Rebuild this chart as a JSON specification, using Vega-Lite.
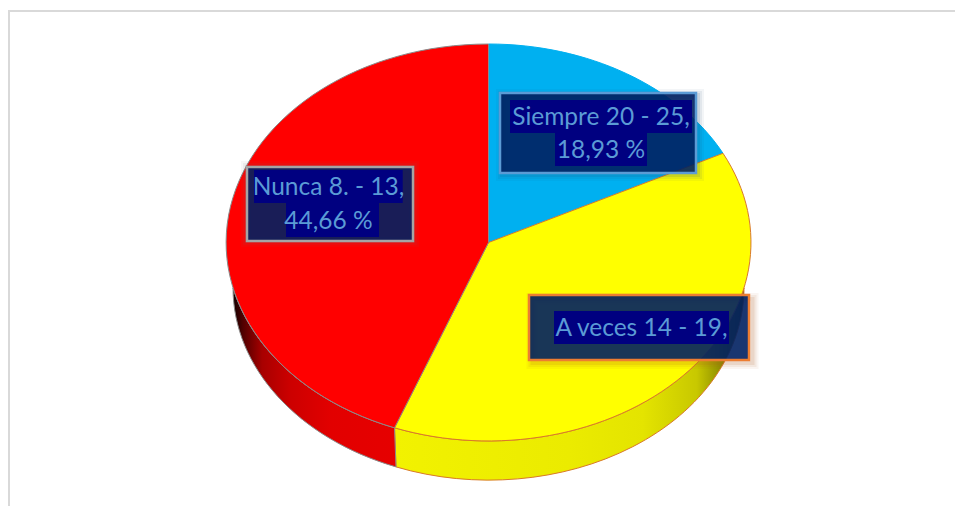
{
"$schema":"https://vega.github.io/schema/vega-lite/v6.json",
"width":955,"height":506,"padding":0,"autosize":{"type":"none"},"background":"white",
"config":{"view":{"stroke":null}},
"resolve":{"scale":{"shape":"independent","stroke":"independent","fill":"independent"}},
"data":{"values":[
{"serie":"Siempre","rango":"Siempre 20 - 25,","pct":"18,93 %","porcentaje":18.93},
{"serie":"A veces","rango":"A veces 14 - 19,","pct":"","porcentaje":36.41},
{"serie":"Nunca","rango":"Nunca 8. - 13,","pct":"44,66 %","porcentaje":44.66}
]},
"layer":[
{"data":{"values":[{"marco":"frame"}]},"mark":{"type":"point","shape":"M-468.5,253L-468.5,-242L477.5,-242","size":4,"filled":false,"stroke":"#d9d9d9","strokeWidth":2,"opacity":1}},
{"transform":[{"filter":"datum.serie==='A veces'"}],"mark":{"type":"point","filled":true,"opacity":1,"size":4,"stroke":"#d9792a","strokeWidth":1,
"shape":"M266.5,35A262.5,198.5 0 0 1 -83,174.8L-81.5,213.9A255,192 0 0 0 266.5,35Z",
"fill":{"gradient":"linear","x1":0,"x2":1,"y1":0,"y2":0,"stops":[{"offset":0,"color":"#f2f200"},{"offset":0.5,"color":"#ebeb00"},{"offset":0.71,"color":"#e4e400"},{"offset":0.865,"color":"#c8c800"},{"offset":0.94,"color":"#8a8a00"},{"offset":1,"color":"#555500"}]}}},
{"transform":[{"filter":"datum.serie==='Nunca'"}],"mark":{"type":"point","filled":true,"opacity":1,"size":4,"stroke":"#8a8a8a","strokeWidth":1,
"shape":"M-83,174.8A262.5,198.5 0 0 1 -244.5,35A255,192 0 0 0 -81.5,213.9Z",
"fill":{"gradient":"linear","x1":0,"x2":1,"y1":0,"y2":0,"stops":[{"offset":0,"color":"#100000"},{"offset":0.06,"color":"#500000"},{"offset":0.18,"color":"#a80000"},{"offset":0.35,"color":"#cc0000"},{"offset":0.6,"color":"#e20000"},{"offset":1,"color":"#e60000"}]}}},
{"mark":{"type":"point","filled":true,"opacity":1,"size":4,"strokeWidth":1},
"encoding":{
"shape":{"field":"serie","type":"nominal","legend":null,"scale":{"domain":["Siempre","A veces","Nunca"],"range":[
"M11,-10.5L11,-209A262.5,198.5 0 0 1 245.5,-99.7Z",
"M11,-10.5L245.5,-99.7A262.5,198.5 0 0 1 -83,174.8Z",
"M11,-10.5L-83,174.8A262.5,198.5 0 0 1 11,-209Z"]}},
"fill":{"field":"serie","type":"nominal","legend":null,"scale":{"domain":["Siempre","A veces","Nunca"],"range":["#00b0f0","#ffff00","#ff0000"]}},
"stroke":{"field":"serie","type":"nominal","legend":null,"scale":{"domain":["Siempre","A veces","Nunca"],"range":["#00b0f0","#d9792a","#8a8a8a"]}}
}},
{"mark":{"type":"point","filled":false,"opacity":0.05,"size":4,"strokeWidth":12},
"encoding":{
"shape":{"field":"serie","type":"nominal","legend":null,"scale":{"domain":["Siempre","A veces","Nunca"],"range":["M24.5,-158H220.5V-78H24.5Z","M55,46H275V110H55Z","M-230.5,-86H-64.5V-12H-230.5Z"]}},
"stroke":{"field":"serie","type":"nominal","legend":null,"scale":{"domain":["Siempre","A veces","Nunca"],"range":["#24507a","#b05a20","#707070"]}}
}},
{"mark":{"type":"point","filled":false,"opacity":0.08,"size":4,"strokeWidth":8},
"encoding":{
"shape":{"field":"serie","type":"nominal","legend":null,"scale":{"domain":["Siempre","A veces","Nunca"],"range":["M24.5,-158H220.5V-78H24.5Z","M55,46H275V110H55Z","M-230.5,-86H-64.5V-12H-230.5Z"]}},
"stroke":{"field":"serie","type":"nominal","legend":null,"scale":{"domain":["Siempre","A veces","Nunca"],"range":["#24507a","#b05a20","#707070"]}}
}},
{"mark":{"type":"point","filled":false,"opacity":0.12,"size":4,"strokeWidth":4},
"encoding":{
"shape":{"field":"serie","type":"nominal","legend":null,"scale":{"domain":["Siempre","A veces","Nunca"],"range":["M24.5,-158H220.5V-78H24.5Z","M55,46H275V110H55Z","M-230.5,-86H-64.5V-12H-230.5Z"]}},
"stroke":{"field":"serie","type":"nominal","legend":null,"scale":{"domain":["Siempre","A veces","Nunca"],"range":["#24507a","#b05a20","#707070"]}}
}},
{"mark":{"type":"point","filled":true,"opacity":1,"size":4,"strokeWidth":2.5,"fillOpacity":0.9},
"encoding":{
"shape":{"field":"serie","type":"nominal","legend":null,"scale":{"domain":["Siempre","A veces","Nunca"],"range":["M22.5,-160H218.5V-80H22.5Z","M51.5,42H271.5V107H51.5Z","M-230.5,-86H-64.5V-12H-230.5Z"]}},
"fill":{"value":"#002060"},
"stroke":{"field":"serie","type":"nominal","legend":null,"scale":{"domain":["Siempre","A veces","Nunca"],"range":["#5b9bd5","#ed7d31","#a5a5a5"]}}
}},
{"mark":{"type":"point","filled":true,"opacity":1,"size":4,"fill":"#000080","strokeWidth":0},
"encoding":{
"shape":{"field":"serie","type":"nominal","legend":null,"scale":{"domain":["Siempre","A veces","Nunca"],"range":[
"M32.5,-153H214.5V-120H169.5V-87H77.5V-120H32.5Z",
"M76.5,58H251.5V91H76.5Z",
"M-223.5,-83H-74.8V-50H-98.5V-16H-191.5V-50H-223.5Z"]}}
}},
{"transform":[{"filter":"datum.serie==='Siempre'"}],"mark":{"type":"text","font":"Lato","fontSize":24.5,"color":"#5b9bd5","align":"center","baseline":"middle","dx":123.5,"dy":-135},"encoding":{"text":{"field":"rango"}}},
{"transform":[{"filter":"datum.serie==='Siempre'"}],"mark":{"type":"text","font":"Lato","fontSize":24.5,"color":"#5b9bd5","align":"center","baseline":"middle","dx":123.5,"dy":-102},"encoding":{"text":{"field":"pct"}}},
{"transform":[{"filter":"datum.serie==='Nunca'"}],"mark":{"type":"text","font":"Lato","fontSize":24.5,"color":"#5b9bd5","align":"center","baseline":"middle","dx":-149,"dy":-65},"encoding":{"text":{"field":"rango"}}},
{"transform":[{"filter":"datum.serie==='Nunca'"}],"mark":{"type":"text","font":"Lato","fontSize":24.5,"color":"#5b9bd5","align":"center","baseline":"middle","dx":-149,"dy":-31},"encoding":{"text":{"field":"pct"}}},
{"transform":[{"filter":"datum.serie==='A veces'"}],"mark":{"type":"text","font":"Lato","fontSize":24.5,"color":"#5b9bd5","align":"center","baseline":"middle","dx":164,"dy":76},"encoding":{"text":{"field":"rango"}}}
]
}
